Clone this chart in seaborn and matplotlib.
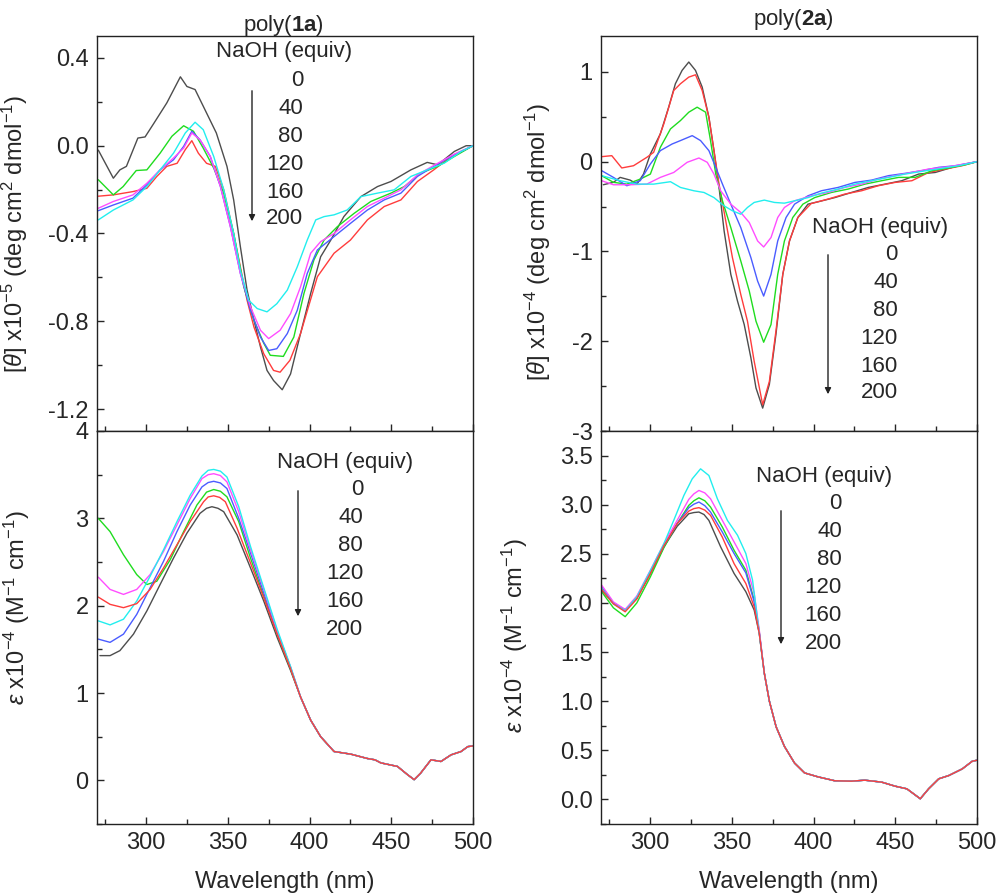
import numpy as np
import pandas as pd
import matplotlib
matplotlib.use("Agg")
import matplotlib.pyplot as plt
from matplotlib.ticker import MultipleLocator, FormatStrFormatter
import seaborn as sns

# ---------------- data ----------------
naoh = [0, 40, 80, 120, 160, 200]
line_colors = ["#4d4d4d", "#ff3c3c", "#1fdc1f", "#4a5cff", "#ff4dff", "#22eeee"]
legend_title = "NaOH (equiv)"
legend_labels = ["0", "40", "80", "120", "160", "200"]

# CD of poly(1a): (wavelength nm, [theta] x1e-5)
cd1_0 = [(270.8, -0.02), (280, -0.148), (284, -0.11), (288, -0.094), (295, 0.035), (299.4, 0.04),
         (304.6, 0.10), (312.7, 0.195), (321, 0.314), (325, 0.27), (330, 0.256), (335, 0.18),
         (343, 0.058), (349.5, -0.094), (353.6, -0.247), (357.7, -0.46), (361.8, -0.658),
         (366, -0.795), (370, -0.917), (374, -1.024), (378, -1.07), (383.3, -1.112), (388.4, -1.04),
         (394.5, -0.856), (400.7, -0.673), (406.8, -0.506), (413, -0.43), (421, -0.323),
         (431.4, -0.232), (441.6, -0.186), (449.8, -0.163), (462, -0.11), (472, -0.076),
         (478.4, -0.087), (488.6, -0.026), (495.8, 0.0), (500, 0.0)]
cd1_40 = [(270.8, -0.23), (280, -0.224), (292, -0.209), (300.5, -0.194), (306.6, -0.14),
          (312.7, -0.094), (319, -0.08), (324, -0.018), (328, 0.023), (332, -0.034), (337, -0.08),
          (342.4, -0.094), (347.5, -0.2), (353.6, -0.4), (357.7, -0.552), (361.8, -0.704),
          (366, -0.826), (372, -0.948), (378, -1.024), (382, -1.032), (388, -0.978), (394.5, -0.856),
          (404.8, -0.597), (415, -0.49), (425, -0.43), (435.4, -0.338), (445.7, -0.277),
          (455.9, -0.247), (466, -0.163), (476, -0.11), (486.6, -0.049), (500, 0.0)]
cd1_80 = [(270.8, -0.155), (280, -0.224), (286, -0.186), (294, -0.113), (300.5, -0.11),
          (308.6, -0.034), (315.8, 0.043), (323, 0.091), (329, 0.066), (335, -0.011), (341.4, -0.102),
          (347.5, -0.216), (353.6, -0.4), (359.8, -0.643), (366, -0.795), (372, -0.9), (376, -0.955),
          (384, -0.96), (390.4, -0.872), (396.6, -0.673), (402.7, -0.52), (408.9, -0.43),
          (417, -0.369), (427.3, -0.308), (437.5, -0.254), (449.8, -0.216), (458, -0.186),
          (468, -0.125), (478.4, -0.094), (488.6, -0.049), (500, 0.0)]
cd1_120 = [(270.8, -0.296), (280, -0.27), (292, -0.239), (300.5, -0.178), (308.6, -0.11),
           (316.8, -0.064), (323, -0.003), (328, 0.066), (333, 0.027), (339.3, -0.049),
           (345.5, -0.186), (351.6, -0.369), (357.7, -0.582), (363.9, -0.75), (370, -0.872),
           (375, -0.933), (380, -0.925), (386.4, -0.856), (392.5, -0.75), (398.6, -0.582),
           (404.8, -0.475), (415, -0.414), (425, -0.354), (435.4, -0.293), (445.7, -0.247),
           (455.9, -0.216), (466, -0.14), (476, -0.094), (488.6, -0.041), (500, 0.0)]
cd1_160 = [(270.8, -0.285), (280, -0.254), (292, -0.224), (300.5, -0.171), (308.6, -0.11),
           (316.8, -0.056), (323, -0.011), (328, 0.058), (333, 0.027), (339.3, -0.049),
           (345.5, -0.186), (351.6, -0.369), (357.7, -0.582), (363.9, -0.734), (370, -0.841),
           (375, -0.879), (382, -0.841), (388.4, -0.765), (394.5, -0.643), (400.7, -0.49),
           (406.8, -0.437), (415, -0.4), (425, -0.338), (435.4, -0.277), (445.7, -0.239),
           (455.9, -0.201), (466, -0.133), (476, -0.09), (488.6, -0.038), (500, 0.0)]
cd1_200 = [(270.8, -0.338), (280, -0.293), (292, -0.247), (300.5, -0.186), (308.6, -0.11),
           (316.8, -0.034), (324, 0.058), (330, 0.107), (335, 0.073), (341.4, -0.049),
           (347.5, -0.2), (353.6, -0.4), (357.7, -0.567), (362.8, -0.704), (368, -0.742),
           (374, -0.757), (380, -0.72), (386.4, -0.658), (392.5, -0.552), (398.6, -0.43),
           (403.8, -0.338), (408.9, -0.323), (415, -0.315), (423, -0.293), (431.4, -0.232),
           (441.6, -0.216), (451.8, -0.201), (462, -0.14), (472, -0.11), (482.5, -0.079),
           (492.8, -0.026), (500, 0.0)]

# CD of poly(2a): (wavelength nm, [theta] x1e-4)
cd2_0 = [(271.4, -0.257), (277.6, -0.23), (281.7, -0.175), (287.8, -0.205), (292, -0.25),
         (296, -0.138), (300.2, 0.086), (306.3, 0.31), (311.4, 0.607), (315.5, 0.868),
         (319.6, 1.017), (323.7, 1.11), (327.8, 1.017), (331.9, 0.83), (336, 0.495), (339.1, 0.123),
         (342.2, -0.287), (345.3, -0.77), (349.4, -1.255), (353.5, -1.553), (357.6, -1.814),
         (361.7, -2.186), (364.8, -2.52), (368.9, -2.745), (373, -2.48), (377, -1.925),
         (381.2, -1.255), (385.3, -0.883), (390.4, -0.622), (396.6, -0.473), (402.7, -0.447),
         (413, -0.4), (423.2, -0.343), (433.5, -0.287), (443.7, -0.25), (454, -0.212),
         (464.3, -0.138), (474.5, -0.12), (484.8, -0.063), (493, -0.026), (500, 0.0)]
cd2_40 = [(270.4, 0.056), (276.6, 0.067), (282.7, -0.07), (289.9, -0.045), (298, 0.048),
          (302.2, 0.104), (308.4, 0.42), (314.5, 0.793), (318.6, 0.868), (323.7, 0.942),
          (327.8, 0.968), (331.9, 0.793), (336, 0.495), (339.1, 0.123), (342.2, -0.25),
          (346.3, -0.659), (350.4, -1.069), (355.5, -1.479), (359.6, -1.777), (363.7, -2.223),
          (368.9, -2.708), (373, -2.447), (377, -1.888), (381.2, -1.255), (385.3, -0.883),
          (390.4, -0.622), (398.6, -0.466), (408.9, -0.417), (419.1, -0.361), (429.4, -0.324),
          (439.6, -0.268), (449.9, -0.231), (460.2, -0.212), (470.4, -0.12), (480.7, -0.082),
          (490.9, -0.045), (500, 0.0)]
cd2_80 = [(270.4, -0.156), (277.6, -0.23), (285.8, -0.25), (294, -0.194), (300.2, -0.138),
          (306.3, 0.16), (312.5, 0.365), (318.6, 0.458), (323.7, 0.551), (328.8, 0.607),
          (334, 0.551), (337, 0.235), (340.2, -0.138), (344.3, -0.436), (349.4, -0.734),
          (355.5, -1.106), (360.7, -1.441), (364.8, -1.777), (369.5, -2.011), (374, -1.814),
          (378.1, -1.255), (382.2, -0.883), (387.3, -0.622), (393.5, -0.473), (400.7, -0.4),
          (410.9, -0.343), (421.2, -0.305), (431.4, -0.25), (441.7, -0.212), (452, -0.175),
          (462.2, -0.175), (472.5, -0.1), (482.7, -0.07), (493, -0.034), (500, 0.0)]
cd2_120 = [(270.4, -0.1), (277.6, -0.175), (285.8, -0.268), (294, -0.212), (300.2, -0.026),
           (306.3, 0.123), (313.5, 0.197), (318.6, 0.235), (325.8, 0.29), (330.9, 0.235),
           (336, 0.123), (340.2, -0.063), (344.3, -0.25), (349.4, -0.473), (355.5, -0.734),
           (361.7, -1.069), (365.8, -1.33), (369.5, -1.497), (374, -1.255), (378.1, -0.883),
           (383.2, -0.622), (388.4, -0.473), (396.6, -0.38), (404.8, -0.324), (415, -0.287),
           (425.3, -0.231), (435.6, -0.205), (445.8, -0.156), (456, -0.13), (466.3, -0.1),
           (476.6, -0.063), (486.8, -0.045), (500, 0.0)]
cd2_160 = [(270.4, -0.212), (277.6, -0.257), (287.8, -0.257), (298, -0.25), (306.3, -0.175),
           (314.5, -0.12), (322.7, -0.007), (329.9, 0.041), (335, -0.007), (339.1, -0.138),
           (343.2, -0.324), (349.4, -0.473), (355.5, -0.566), (360.7, -0.678), (365.8, -0.883),
           (369.5, -0.95), (374, -0.845), (378.1, -0.622), (382.2, -0.51), (388.4, -0.436),
           (398.6, -0.38), (408.9, -0.343), (419.1, -0.287), (429.4, -0.25), (439.6, -0.194),
           (449.9, -0.156), (460.2, -0.119), (470.4, -0.082), (482.7, -0.056), (500, 0.0)]
cd2_200 = [(270.4, -0.156), (281.7, -0.212), (292, -0.25), (302.2, -0.25), (312.5, -0.223),
           (318.6, -0.287), (326.8, -0.324), (333, -0.343), (339.1, -0.4), (345.3, -0.492),
           (350.4, -0.547), (355.5, -0.585), (359.6, -0.51), (363.7, -0.454), (369.9, -0.428),
           (376.1, -0.454), (382.2, -0.462), (388.4, -0.436), (396.6, -0.4), (404.8, -0.35),
           (415, -0.305), (425.3, -0.25), (435.6, -0.212), (445.8, -0.175), (456, -0.138),
           (466.3, -0.108), (478.6, -0.074), (488.9, -0.045), (500, 0.0)]

# UV-vis of poly(1a): (wavelength nm, eps x1e-4); all series share the tail
uv1_0 = [(271.8, 1.428), (278, 1.428), (284, 1.485), (292.3, 1.674), (300.5, 1.94), (308.6, 2.242),
         (316.8, 2.545), (325, 2.83), (333, 3.057), (337, 3.115), (340.3, 3.133), (344, 3.115),
         (347.5, 3.076), (355.7, 2.81), (363.9, 2.432), (372, 2.053), (380.2, 1.636), (388.4, 1.258)]
uv1_40 = [(270.8, 2.098), (278, 2.015), (286.2, 1.977), (294.3, 2.023), (302.5, 2.186),
          (310.7, 2.432), (318.9, 2.697), (327, 2.962), (335.2, 3.19), (338, 3.245), (341.4, 3.258),
          (345, 3.24), (348.5, 3.19), (355.7, 2.886), (363.9, 2.489), (372, 2.091), (380.2, 1.674),
          (388.4, 1.277)]
uv1_80 = [(270.8, 3.0), (278, 2.848), (286.2, 2.583), (294.3, 2.356), (300.5, 2.242),
          (306.6, 2.28), (314.8, 2.527), (323, 2.848), (331.1, 3.152), (337, 3.30), (341.4, 3.33),
          (345.5, 3.31), (349.5, 3.246), (356.7, 2.962), (363.9, 2.545), (372, 2.11), (380.2, 1.674),
          (388.4, 1.277)]
uv1_120 = [(270.8, 1.617), (278, 1.58), (286.2, 1.674), (294.3, 1.9), (302.5, 2.205),
           (310.7, 2.508), (318.9, 2.848), (327, 3.152), (334.2, 3.36), (338, 3.41), (341.4, 3.424),
           (345.5, 3.405), (349.5, 3.341), (356.7, 3.0), (363.9, 2.602), (372, 2.148),
           (380.2, 1.693), (388.4, 1.295)]
uv1_160 = [(270.8, 2.326), (278, 2.186), (286.2, 2.129), (294.3, 2.186), (302.5, 2.356),
           (310.7, 2.621), (318.9, 2.924), (327, 3.227), (334.2, 3.455), (338, 3.50), (341.4, 3.511),
           (345.5, 3.49), (349.5, 3.417), (356.7, 3.076), (363.9, 2.64), (372, 2.186),
           (380.2, 1.712), (388.4, 1.295)]
uv1_200 = [(270.8, 1.826), (278, 1.78), (286.2, 1.845), (294.3, 2.053), (302.5, 2.337),
           (310.7, 2.64), (318.9, 2.962), (327, 3.265), (334.2, 3.485), (338, 3.55), (341.4, 3.56),
           (345.5, 3.54), (349.5, 3.473), (356.7, 3.133), (363.9, 2.678), (372, 2.205),
           (380.2, 1.731), (388.4, 1.303)]
uv1_tail = [(394.5, 0.955), (400.7, 0.689), (406.8, 0.5), (415, 0.33), (425.2, 0.3),
            (435.4, 0.25), (440, 0.235), (443.6, 0.2), (453.8, 0.159), (460, 0.064),
            (464, 0.008), (468, 0.083), (474.3, 0.235), (480.4, 0.216), (486.6, 0.292),
            (492.7, 0.33), (496.8, 0.386), (500, 0.394)]

# UV-vis of poly(2a): (wavelength nm, eps x1e-4); all series share the tail
uv2_0 = [(270.4, 2.13), (277.6, 1.995), (284.8, 1.928), (291.9, 2.046), (300.2, 2.3),
         (308.4, 2.57), (316.6, 2.78), (323.7, 2.908), (326.8, 2.92), (329.9, 2.925), (333, 2.90),
         (336, 2.84), (343.2, 2.57), (351.4, 2.3), (358.6, 2.114), (363.7, 1.928), (366.8, 1.691)]
uv2_40 = [(270.4, 2.137), (277.6, 1.99), (284.8, 1.91), (291.9, 2.04), (300.2, 2.3), (308.4, 2.58),
          (316.6, 2.807), (323.7, 2.935), (326.8, 2.96), (329.9, 2.97), (333.5, 2.945), (337, 2.891),
          (344.2, 2.67), (351.4, 2.4), (358.6, 2.198), (363.7, 1.961), (366.8, 1.691)]
uv2_80 = [(270.4, 2.114), (277.6, 1.95), (284.8, 1.86), (291.9, 2.0), (300.2, 2.266),
          (308.4, 2.56), (316.6, 2.807), (323.7, 2.993), (326.8, 3.04), (329.9, 3.07), (333.5, 3.04),
          (337, 2.976), (344.2, 2.773), (351.4, 2.536), (358.6, 2.333), (363.7, 2.029), (366.8, 1.708)]
uv2_120 = [(270.4, 2.164), (277.6, 2.0), (284.8, 1.928), (291.9, 2.06), (300.2, 2.317),
           (308.4, 2.58), (316.6, 2.807), (323.7, 2.969), (326.8, 3.005), (329.9, 3.027),
           (333.5, 2.99), (337, 2.925), (344.2, 2.722), (351.4, 2.503), (358.6, 2.306),
           (363.7, 2.012), (366.8, 1.701)]
uv2_160 = [(270.4, 2.181), (277.6, 2.01), (284.8, 1.934), (291.9, 2.07), (300.2, 2.333),
           (308.4, 2.6), (316.6, 2.841), (323.7, 3.054), (326.8, 3.11), (329.9, 3.145),
           (333.5, 3.12), (337, 3.06), (344.2, 2.841), (351.4, 2.621), (358.6, 2.401),
           (363.7, 2.097), (366.8, 1.725)]
uv2_200 = [(270.4, 2.147), (277.6, 1.99), (284.8, 1.921), (291.9, 2.06), (300.2, 2.327),
           (308.4, 2.6), (314.5, 2.841), (320.7, 3.094), (325.8, 3.263), (330.9, 3.365),
           (336, 3.297), (341.2, 3.06), (347.3, 2.841), (353.5, 2.689), (358.6, 2.503),
           (362.7, 2.232), (365.8, 1.826), (367.8, 1.556)]
uv2_tail = [(369.9, 1.285), (373, 1.0), (377.1, 0.74), (382.2, 0.54), (388.4, 0.37),
            (394.5, 0.27), (402.7, 0.23), (413, 0.19), (423.2, 0.186), (431.4, 0.196),
            (441.7, 0.176), (449.9, 0.135), (457.1, 0.108), (465.3, 0.007), (470.4, 0.108),
            (476.6, 0.21), (482.7, 0.243), (491, 0.311), (497.1, 0.389), (500, 0.399)]


def make_frame(series, tail=None):
    rows = []
    for n, pts in zip(naoh, series):
        allpts = list(pts) + (list(tail) if tail else [])
        for wl, v in allpts:
            rows.append({"wl": wl, "v": v, "naoh": n})
    return pd.DataFrame(rows)


df_cd1 = make_frame([cd1_0, cd1_40, cd1_80, cd1_120, cd1_160, cd1_200])
df_cd2 = make_frame([cd2_0, cd2_40, cd2_80, cd2_120, cd2_160, cd2_200])
df_uv1 = make_frame([uv1_0, uv1_40, uv1_80, uv1_120, uv1_160, uv1_200], uv1_tail)
df_uv2 = make_frame([uv2_0, uv2_40, uv2_80, uv2_120, uv2_160, uv2_200], uv2_tail)

# ---------------- style ----------------
sns.set_style("ticks")
plt.rcParams["font.family"] = ["Liberation Sans", "DejaVu Sans"]
plt.rcParams["mathtext.fontset"] = "custom"
plt.rcParams["mathtext.rm"] = "Liberation Sans"
plt.rcParams["mathtext.it"] = "Liberation Sans:italic"
plt.rcParams["mathtext.bf"] = "Liberation Sans:bold"
plt.rcParams["axes.unicode_minus"] = False

W, H = 998, 896
fig = plt.figure(figsize=(W / 100, H / 100), dpi=100)


def fx(px):
    return px / W


def fy(py):
    return 1 - py / H


ax_ul = fig.add_axes([fx(97), fy(431), fx(376), (431 - 36) / H])
ax_ll = fig.add_axes([fx(97), fy(824), fx(376), (824 - 431) / H])
ax_ur = fig.add_axes([fx(601), fy(431), fx(376), (431 - 36) / H])
ax_lr = fig.add_axes([fx(601), fy(824), fx(376), (824 - 431) / H])

pal = dict(zip(naoh, line_colors))
cd_order = naoh
uv_order = [0, 80, 120, 160, 200, 40]
for ax, df, order in [(ax_ul, df_cd1, cd_order), (ax_ur, df_cd2, cd_order),
                      (ax_ll, df_uv1, uv_order), (ax_lr, df_uv2, uv_order)]:
    sns.lineplot(data=df, x="wl", y="v", hue="naoh", hue_order=order, palette=pal,
                 legend=False, ax=ax, linewidth=1.0, estimator=None, sort=True)
    ax.set_xlim(270, 500)
    ax.xaxis.set_major_locator(MultipleLocator(50))
    ax.xaxis.set_minor_locator(MultipleLocator(25))
    ax.tick_params(which="both", direction="in", top=False, right=False,
                   labelsize=17, width=1.0, pad=6)
    ax.tick_params(which="major", length=5)
    ax.tick_params(which="minor", length=3.5)
    for sp in ax.spines.values():
        sp.set_visible(True)
        sp.set_linewidth(1.0)
        sp.set_color("#222222")
    ax.set_xlabel("")
    ax.set_ylabel("")

for ax in (ax_ul, ax_ur):
    ax.tick_params(axis="x", labelbottom=False)

ax_ul.set_ylim(-1.3, 0.5)
ax_ul.yaxis.set_major_locator(MultipleLocator(0.4))
ax_ul.yaxis.set_minor_locator(MultipleLocator(0.2))
ax_ul.yaxis.set_major_formatter(FormatStrFormatter("%.1f"))

ax_ur.set_ylim(-3, 1.4)
ax_ur.yaxis.set_major_locator(MultipleLocator(1))
ax_ur.yaxis.set_minor_locator(MultipleLocator(0.5))
ax_ur.yaxis.set_major_formatter(FormatStrFormatter("%d"))

ax_ll.set_ylim(-0.5, 4)
ax_ll.yaxis.set_major_locator(MultipleLocator(1))
ax_ll.yaxis.set_minor_locator(MultipleLocator(0.5))
ax_ll.yaxis.set_major_formatter(FormatStrFormatter("%d"))

ax_lr.set_ylim(-0.25, 3.75)
ax_lr.yaxis.set_major_locator(MultipleLocator(0.5))
ax_lr.yaxis.set_minor_locator(MultipleLocator(0.25))
ax_lr.yaxis.set_major_formatter(FormatStrFormatter("%.1f"))

for ax in (ax_ll, ax_lr):
    ax.set_xlabel("Wavelength (nm)", fontsize=17, labelpad=12)

ax_ul.set_ylabel(r"[$\mathit{\theta}$] x10$^{-5}$ (deg cm$^{2}$ dmol$^{-1}$)", fontsize=17)
ax_ur.set_ylabel(r"[$\mathit{\theta}$] x10$^{-4}$ (deg cm$^{2}$ dmol$^{-1}$)", fontsize=17)
ax_ll.set_ylabel(r"$\mathit{\varepsilon}$ x10$^{-4}$ (M$^{-1}$ cm$^{-1}$)", fontsize=17)
ax_lr.set_ylabel(r"$\mathit{\varepsilon}$ x10$^{-4}$ (M$^{-1}$ cm$^{-1}$)", fontsize=17)
ax_ul.yaxis.set_label_coords((30 - 97) / 376, 0.5)
ax_ll.yaxis.set_label_coords((32 - 97) / 376, 0.55)
ax_ur.yaxis.set_label_coords((553 - 601) / 376, 0.48)
ax_lr.yaxis.set_label_coords((530 - 601) / 376, 0.48)

fig.text(fx(283), fy(25), r"poly($\mathbf{1a}$)", fontsize=16, ha="center", va="center")
fig.text(fx(793), fy(20), r"poly($\mathbf{2a}$)", fontsize=16, ha="center", va="center")


def legend_block(title_xy, num_right_x, num_ys, arrow_x, arrow_y0, arrow_y1):
    fig.text(fx(title_xy[0]), fy(title_xy[1]), legend_title, fontsize=16,
             ha="center", va="center")
    for lab, yy in zip(legend_labels, num_ys):
        fig.text(fx(num_right_x), fy(yy), lab, fontsize=16, ha="right", va="center")
    fig.add_artist(matplotlib.patches.FancyArrowPatch(
        (fx(arrow_x), fy(arrow_y0)), (fx(arrow_x), fy(arrow_y1)),
        transform=fig.transFigure, arrowstyle="-|>", mutation_scale=9,
        linewidth=1.0, color="#222222"))


legend_block((284, 52), 303, [80, 108, 136, 164, 192, 219], 252, 88, 224)
legend_block((880, 227), 898, [254, 282, 310, 338, 366, 393], 828, 252, 397)
legend_block((345, 462), 363, [489, 517, 545, 573, 601, 629], 298, 488, 619)
legend_block((824, 476), 842, [503, 531, 559, 587, 615, 643], 781, 508, 647)

fig.savefig("out.png", dpi=100)
